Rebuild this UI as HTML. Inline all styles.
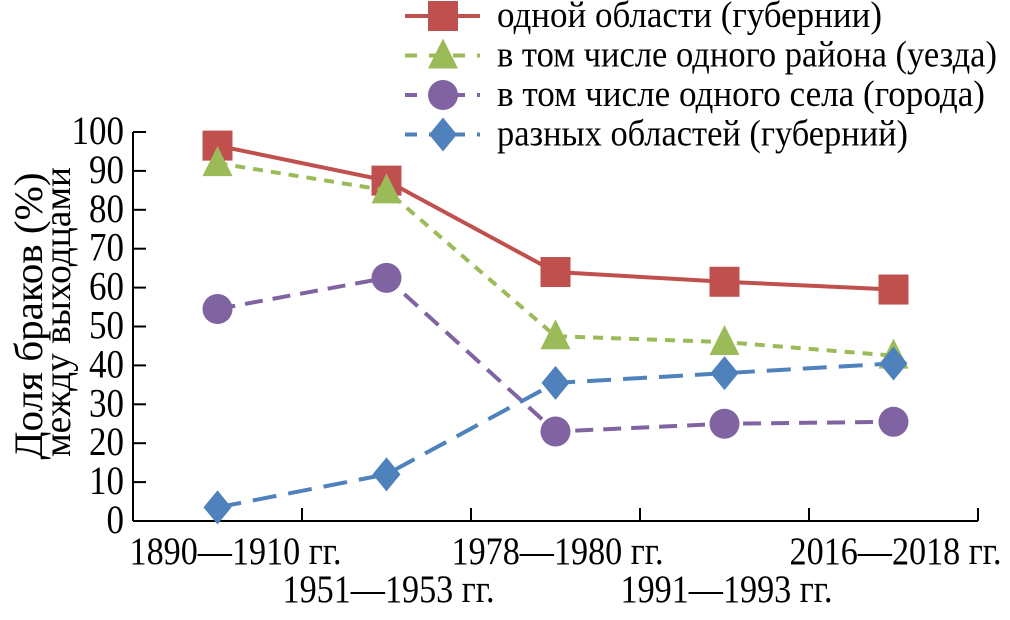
<!DOCTYPE html>
<html><head><meta charset="utf-8"><style>
html,body{margin:0;padding:0;background:#fff;}
svg{display:block;}
svg text{font-family:"Liberation Serif","Times New Roman",serif;}
</style></head><body>
<svg id="chart" width="1010" height="620" viewBox="0 0 1010 620" font-family="Liberation Serif, serif">
<g id="axes"></g><g id="series"></g><g id="legend"></g>
<text font-family="Liberation Serif, serif" transform="translate(42,316) rotate(-90) scale(1,1.15)" text-anchor="middle" font-size="35" textLength="287" lengthAdjust="spacingAndGlyphs">Доля браков (%)</text>
<text font-family="Liberation Serif, serif" transform="translate(70,312) rotate(-90) scale(1,1.15)" text-anchor="middle" font-size="33" textLength="290" lengthAdjust="spacingAndGlyphs">между выходцами</text>
</svg>
<script>
const categories=["1890—1910 гг.","1951—1953 гг.","1978—1980 гг.","1991—1993 гг.","2016—2018 гг."];
const seriesNames=["одной области (губернии)","в том числе одного района (уезда)","в том числе одного села (города)","разных областей (губерний)"];
const redValues=[96.5,87.5,64,61.5,59.5];
const greenValues=[92,85,47.5,46,42.5];
const purpleValues=[54.5,62.5,23,25,25.5];
const blueValues=[3.5,12,35.5,38,40.5];
const yTicks=[0,10,20,30,40,50,60,70,80,90,100];
const legendWidths=[385,500,488,411];
const NS="http://www.w3.org/2000/svg";
const X0=133,X1=978,Y0=521,Y1=132;
const step=(X1-X0)/categories.length;
const xs=i=>X0+step*(i+0.5);
const ys=v=>Y0-(v/100)*(Y0-Y1);
function mk(tag,attrs,parent){const e=document.createElementNS(NS,tag);for(const k in attrs)e.setAttribute(k,attrs[k]);parent.appendChild(e);return e;}
function txt(x,y,size,anchor,parent){return mk('text',{transform:`translate(${x},${y}) scale(1,1.15)`,'text-anchor':anchor,'font-size':size,'font-family':'Liberation Serif, serif'},parent);}
const axes=document.getElementById('axes');
let a=mk('line',{x1:X0,y1:Y0,x2:X1,y2:Y0,stroke:'#000','stroke-width':2},axes);


a=mk('line',{x1:X0,y1:Y0,x2:X0,y2:Y1,stroke:'#000','stroke-width':2},axes);


yTicks.forEach(t=>{
 const y=ys(t);
 let l=mk('line',{x1:X0,y1:y,x2:X0+13,y2:y,stroke:'#000','stroke-width':2},axes);
 
 
 let tx=txt(124,y+12,35,'end',axes);
 tx.textContent=t;
 
 
});
categories.forEach((c,i)=>{
 const xt=X0+step*(i+1);
 let l=mk('line',{x1:xt,y1:Y0,x2:xt,y2:Y0-13,stroke:'#000','stroke-width':2},axes);
 
 
 let tx=txt(xs(i)+(i===0?18:2),i%2?602:564,34,'middle',axes);
 tx.setAttribute('textLength',212);
 tx.setAttribute('lengthAdjust','spacingAndGlyphs');
 tx.textContent=c;
 
 
});
const cfg=[
 {vals:redValues,color:'#c0504d',dash:'',m:'square'},
 {vals:greenValues,color:'#9bbb59',dash:'10,8',m:'tri'},
 {vals:purpleValues,color:'#8064a2',dash:'18,10',m:'circle'},
 {vals:blueValues,color:'#4f81bd',dash:'24,12',m:'diamond'}];
function marker(type,x,y,color,g){
 let e;
 if(type==='square')e=mk('rect',{x:x-15,y:y-15,width:30,height:30,fill:color},g);
 else if(type==='tri')e=mk('polygon',{points:`${x},${y-17} ${x-15},${y+13} ${x+15},${y+13}`,fill:color},g);
 else if(type==='circle')e=mk('circle',{cx:x,cy:y,r:15,fill:color},g);
 else e=mk('polygon',{points:`${x},${y-17} ${x+14},${y} ${x},${y+17} ${x-14},${y}`,fill:color},g);
 return e;
}
const sg=document.getElementById('series');
cfg.forEach((s,k)=>{
 const g=mk('g',{},sg);
 
 
 let p=mk('polyline',{points:s.vals.map((v,i)=>xs(i)+','+ys(v)).join(' '),fill:'none',stroke:s.color,'stroke-width':4,'stroke-dasharray':s.dash},g);
 
 
 s.vals.forEach((v,i)=>{
  const m=marker(s.m,xs(i),ys(v),s.color,g);
  
  
 });
});
const lg=document.getElementById('legend');
cfg.forEach((s,k)=>{
 const y=16+k*39.5;
 const g=mk('g',{},lg);
 
 
 mk('line',{x1:405,y1:y,x2:480,y2:y,stroke:s.color,'stroke-width':4,'stroke-dasharray':s.dash?'12,12':''},g);
 marker(s.m,443,y,s.color,g);
 let t=txt(497,y+11,32,'start',g);
 t.setAttribute('textLength',legendWidths[k]);
 t.setAttribute('lengthAdjust','spacingAndGlyphs');
 t.textContent=seriesNames[k];
 
 
});
</script>
</body></html>
